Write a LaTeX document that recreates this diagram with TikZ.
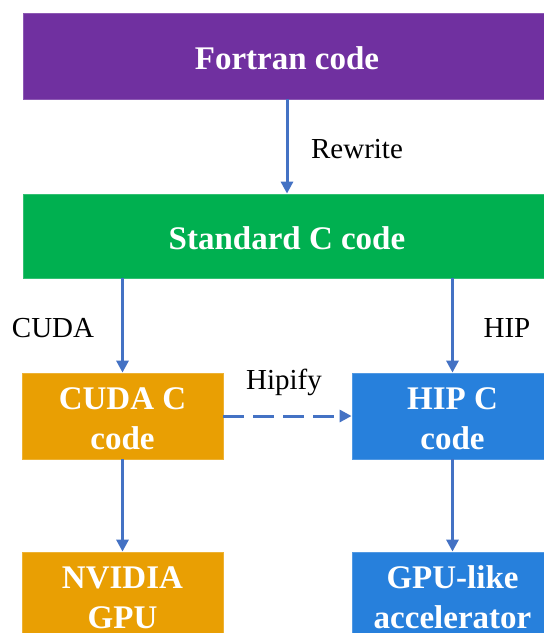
\documentclass[tikz,border=0pt]{standalone}
\usepackage{fontspec}
\setmainfont{Liberation Serif}
\usetikzlibrary{arrows.meta}
\definecolor{cpurple}{RGB}{112,48,160}
\definecolor{cgreen}{RGB}{0,176,80}
\definecolor{corange}{RGB}{233,159,3}
\definecolor{cblue}{RGB}{39,128,220}
\definecolor{carrow}{RGB}{68,114,196}
\newcommand{\mystrut}{\rule{0pt}{28pt}}
\tikzset{
  box/.style={rectangle, inner sep=0pt, text=white, align=center,
    font=\fontsize{33}{40}\selectfont\bfseries},
  wide/.style={box, minimum width=528pt, minimum height=86pt},
  small/.style={box, minimum width=201pt, minimum height=86pt},
  lbl/.style={anchor=base, inner sep=0pt, font=\fontsize{29}{34}\selectfont},
  conn/.style={draw=carrow, line width=3pt, -{Triangle[length=12pt,width=12pt]}},
}
\begin{document}
\begin{tikzpicture}[x=1pt,y=-1pt]
\useasboundingbox (0,0) rectangle (544,633);
\clip (0,0) rectangle (544,633);
\node[wide, fill=cpurple, draw=cpurple!80!white, line width=0.8pt] (fortran) at (287,56) {\mystrut Fortran code};
\node[wide, fill=cgreen, draw=cgreen!80!white, line width=0.8pt, minimum height=84pt] (std) at (287,236) {\mystrut Standard C code};
\node[small, fill=corange, draw=corange!80!white, line width=0.8pt] (cuda) at (122.5,416) {\mystrut CUDA C\\code};
\node[small, fill=cblue, draw=cblue!80!white, line width=0.8pt] (hip) at (452.5,416) {\mystrut HIP C\\code};
\node[small, fill=corange, draw=corange!80!white, line width=0.8pt] (nv) at (122.5,595) {\mystrut NVIDIA\\GPU};
\node[small, fill=cblue, draw=cblue!80!white, line width=0.8pt] (acc) at (452.5,595) {\mystrut GPU-like\\accelerator};

\draw[conn] (fortran.south) -- (std.north);
\draw[conn] (std.south -| cuda.north) -- (cuda.north);
\draw[conn] (std.south -| hip.north) -- (hip.north);
\draw[conn, dash pattern=on 21pt off 9pt] (cuda.east) -- (hip.west);
\draw[conn] (cuda.south) -- (nv.north);
\draw[conn] (hip.south) -- (acc.north);

\node[lbl] (lrewrite) at (357,158) {Rewrite};
\node[lbl] (lcuda) at (53,337) {CUDA};
\node[lbl] (lhip) at (507,337) {HIP};
\node[lbl] (lhipify) at (284,389) {Hipify};
\end{tikzpicture}
\end{document}
